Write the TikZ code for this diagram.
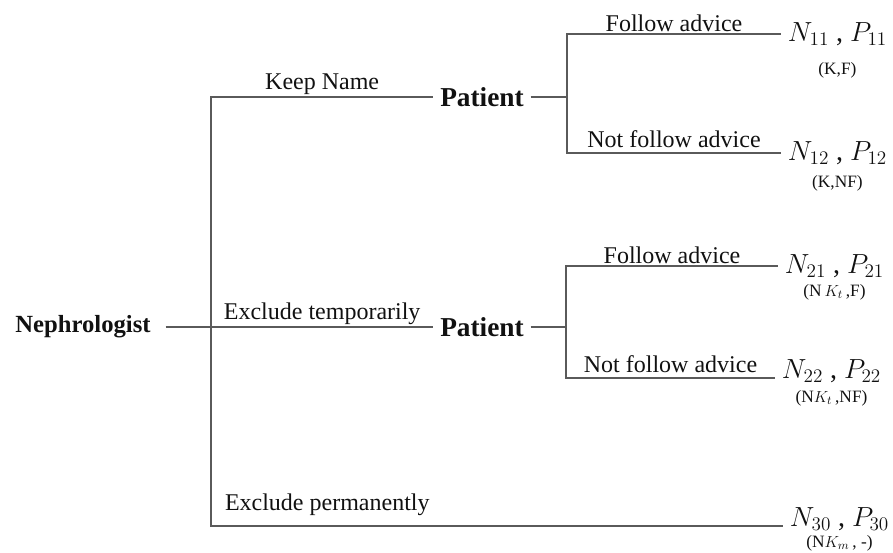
\documentclass[tikz,border=0pt]{standalone}
\usepackage{fontspec}
\setmainfont{Liberation Serif}
\usetikzlibrary{positioning}
\definecolor{treeInk}{HTML}{111111}
\definecolor{treeLine}{HTML}{5A5A5A}
\tikzset{
  playerbox/.style={font=\fontsize{18.5}{22}\selectfont\bfseries,text=treeInk,
    inner ysep=0pt},
  payoffbox/.style={anchor=west,font=\fontsize{21}{24}\selectfont,text=treeInk,
    inner xsep=5pt,inner ysep=0pt},
  profilebox/.style={font=\fontsize{13}{15}\selectfont,text=treeInk,inner sep=0pt},
  movelabel/.style={above,font=\fontsize{18}{20}\selectfont,text=treeInk,inner sep=1.5pt},
  treeline/.style={draw=treeLine,line width=1pt}
}

\begin{document}
\begin{tikzpicture}[x=0.75pt,y=-0.75pt,node distance=6pt]
  \useasboundingbox (0,0) rectangle (893,553);
  \node[playerbox,inner xsep=11pt] (neph) at (83,327) {Nephrologist};
  \node[playerbox,inner xsep=5pt,font=\fontsize{20.5}{22}\selectfont\bfseries] (pat1) at (482,97) {Patient};
  \node[playerbox,inner xsep=5pt,font=\fontsize{20.5}{22}\selectfont\bfseries] (pat2) at (482,327) {Patient};
  \coordinate (root) at (211,327);
  \coordinate (j1) at (567,97);
  \coordinate (j2) at (566,327);

  \node[payoffbox] (n11) at (781,34) {$N_{11}$ , $P_{11}$};
  \node[payoffbox] (n12) at (781,153) {$N_{12}$ , $P_{12}$};
  \node[payoffbox] (n21) at (778,266) {$N_{21}$ , $P_{21}$};
  \node[payoffbox,anchor=base west] (n22) at (775,378) {$N_{22}$ , $P_{22}$};
  \node[payoffbox,anchor=base west] (n30) at (783,526) {$N_{30}$ , $P_{30}$};
  \node[profilebox,below=12pt of n11] (k11) {(K,F)};
  \node[profilebox,below=7.5pt of n12] (k12) {(K,NF)};
  \node[profilebox,below=4.5pt of n21] (k21) {(N\,$K_t$\,,F)};
  \node[profilebox,below=5.5pt of n22] (k22) {(N$K_t$\,,NF)};
  \node[profilebox,below=3.5pt of n30] (k30) {(N$K_m$\,, -)};

  \draw[treeline] (neph) -- (root);
  \draw[treeline] (root) |- node[movelabel,pos=0.75] {Keep Name} (pat1);
  \draw[treeline] (root) -- node[movelabel] {Exclude temporarily} (pat2);
  \draw[treeline] (root) |- node[movelabel,pos=0.5,anchor=south west,inner sep=0pt,
    xshift=10pt,yshift=7pt] {Exclude permanently} (n30.base west);

  \draw[treeline] (pat1) -- (j1);
  \draw[treeline] (j1) |- node[movelabel,pos=0.75] {Follow advice} (n11);
  \draw[treeline] (j1) |- node[movelabel,pos=0.75,yshift=2pt] {Not follow advice} (n12);
  \draw[treeline] (pat2) -- (j2);
  \draw[treeline] (j2) |- node[movelabel,pos=0.75] {Follow advice} (n21);
  \draw[treeline] (j2) |- node[movelabel,pos=0.75,yshift=2pt] {Not follow advice} (n22.base west);
\end{tikzpicture}
\end{document}
